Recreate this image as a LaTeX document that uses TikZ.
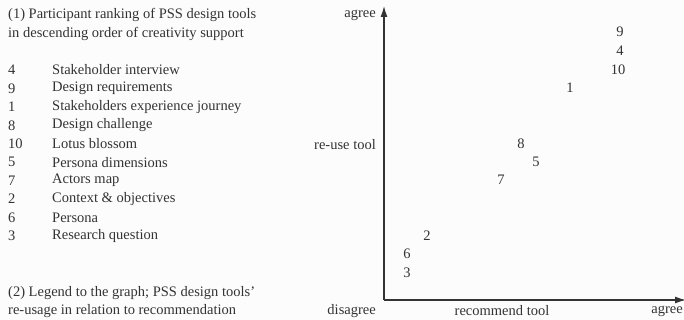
\documentclass[tikz,border=0pt]{standalone}
\usepackage{fontspec}
\setmainfont{Liberation Serif}
\usetikzlibrary{positioning, arrows.meta}

\tikzset{
  txt/.style={inner sep=0pt, anchor=west, text=black!80, font=\fontsize{14.5}{16}\selectfont},
  lbl/.style={inner sep=0pt, text=black!80, font=\fontsize{14.5}{16}\selectfont},
  axis/.style={-{Latex[length=11pt, width=7pt]}, line width=1.3pt, draw=black!80}
}

\begin{document}
\begin{tikzpicture}[x=1pt, y=-1pt]
    \useasboundingbox[fill=black!1] (0,0) rectangle (684,320);

    % Heading of the ranking
    \node[txt] (head1) at (8,15) {(1) Participant ranking of PSS design tools};
    \node[txt] (head2) at (8,34) {in descending order of creativity support};

    % Ranking list
    \foreach \r/\n/\t in {0/4/Stakeholder interview, 1/9/Design requirements, 2/1/Stakeholders experience journey, 3/8/Design challenge, 4/10/Lotus blossom, 5/5/Persona dimensions, 6/7/Actors map, 7/2/Context \& objectives, 8/6/Persona, 9/3/Research question} {
      \node[txt] (num\r) at (8,70+\r*18.44) {\n};
      \node[txt] (tool\r) at (52,70+\r*18.44) {\t};
    }

    % Legend text
    \node[txt] (leg1) at (8,293) {(2) Legend to the graph; PSS design tools'};
    \node[txt] (leg2) at (8,311) {re-usage in relation to recommendation};

    % Axes
    \coordinate (origin) at (384,300);
    \coordinate (ytop) at (384,6);
    \coordinate (xend) at (686,300);
    \draw[axis] (origin) -- (ytop);
    \draw[axis] (origin) -- (xend);

    % Axis labels
    \node[lbl, anchor=east] (yagree) at (376,15) {agree};
    \node[lbl, anchor=east] (yreuse) at (376,145) {re-use tool};
    \node[lbl, anchor=east] (disagree) at (376,311) {disagree};
    \node[lbl] (xrec) at (502,311) {recommend tool};
    \node[lbl, anchor=east] (xagree) at (683,311) {agree};

    % Data points
    \foreach \n/\x/\y in {9/620/32, 4/620/51, 10/618/70, 1/570/88, 8/521/144, 5/536/162, 7/501/180, 2/427/236, 6/407/254, 3/407/273} {
      \node[lbl] (pt\n) at (\x,\y) {\n};
    }

\end{tikzpicture}
\end{document}
